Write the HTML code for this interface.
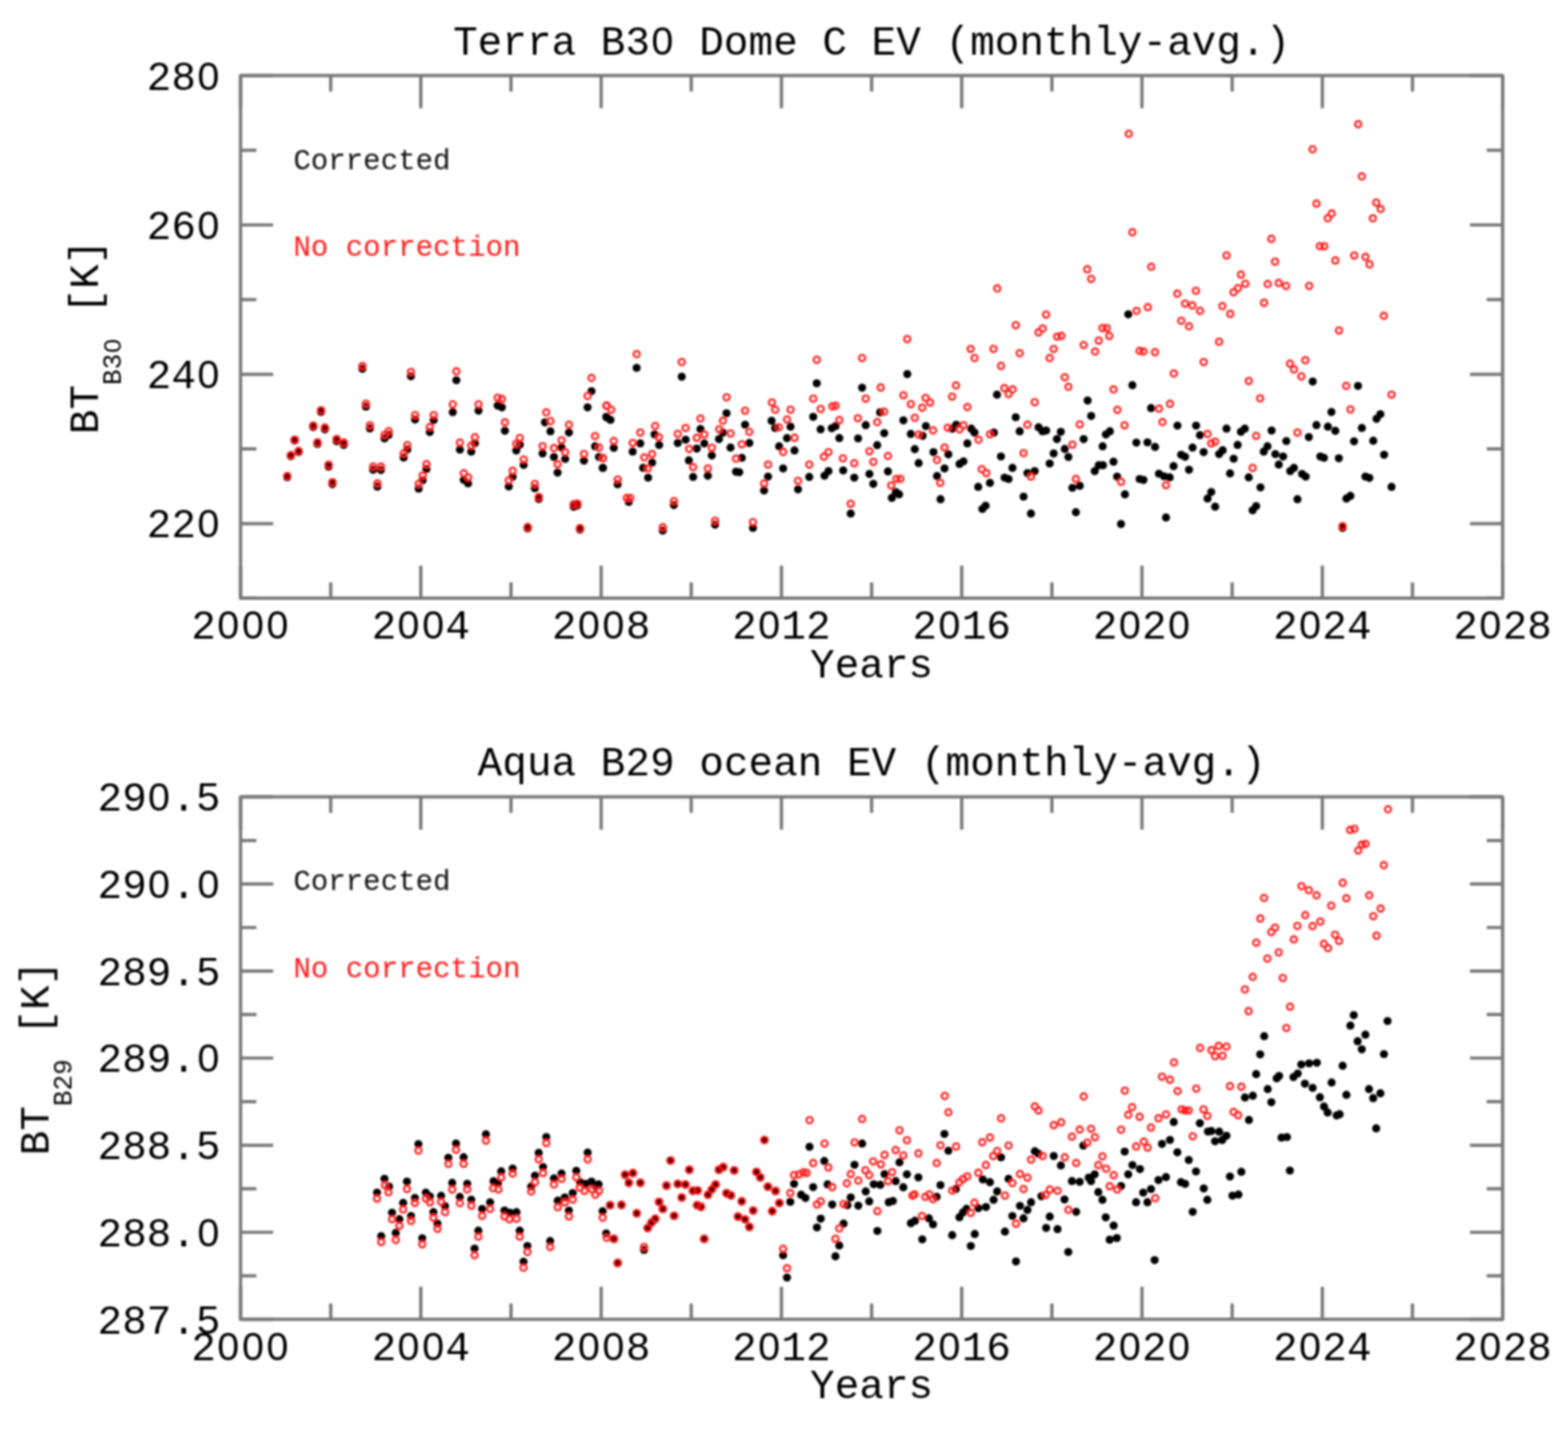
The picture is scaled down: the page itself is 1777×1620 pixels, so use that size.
<!DOCTYPE html><html><head><meta charset="utf-8"><title>Terra B30 / Aqua B29 monthly-avg BT</title><style>html,body{margin:0;padding:0;background:#fff;}svg{display:block}text{font-family:"Liberation Mono",monospace;white-space:pre}</style></head><body>
<svg width="1777" height="1620" viewBox="0 0 1777 1620">
<defs><filter id="bm" x="-50%" y="-50%" width="200%" height="200%"><feGaussianBlur stdDeviation="1"/></filter><filter id="bt" x="-5%" y="-5%" width="110%" height="110%"><feGaussianBlur stdDeviation="1"/></filter><radialGradient id="rg"><stop offset="0.62" stop-color="#900000"/><stop offset="1" stop-color="#ff1414"/></radialGradient></defs>
<rect width="100%" height="100%" fill="#fff"/>
<g filter="url(#bt)">
<path d="M272.6 678.2V641.2M272.6 85.7V122.7M374.8 678.2V660.2M374.8 85.7V103.7M476.9 678.2V641.2M476.9 85.7V122.7M579.1 678.2V660.2M579.1 85.7V103.7M681.3 678.2V641.2M681.3 85.7V122.7M783.4 678.2V660.2M783.4 85.7V103.7M885.6 678.2V641.2M885.6 85.7V122.7M987.8 678.2V660.2M987.8 85.7V103.7M1089.9 678.2V641.2M1089.9 85.7V122.7M1192.1 678.2V660.2M1192.1 85.7V103.7M1294.2 678.2V641.2M1294.2 85.7V122.7M1396.4 678.2V660.2M1396.4 85.7V103.7M1498.6 678.2V641.2M1498.6 85.7V122.7M1600.7 678.2V660.2M1600.7 85.7V103.7M1702.9 678.2V641.2M1702.9 85.7V122.7M272.6 678.2H290.6M1702.9 678.2H1684.9M272.6 593.6H309.6M1702.9 593.6H1665.9M272.6 508.9H290.6M1702.9 508.9H1684.9M272.6 424.3H309.6M1702.9 424.3H1665.9M272.6 339.6H290.6M1702.9 339.6H1684.9M272.6 255.0H309.6M1702.9 255.0H1665.9M272.6 170.3H290.6M1702.9 170.3H1684.9M272.6 85.7H309.6M1702.9 85.7H1665.9" stroke="#787878" stroke-width="3.7" fill="none"/>
<rect x="272.6" y="85.7" width="1430.3" height="592.5" stroke="#787878" stroke-width="3.7" fill="none" stroke-linejoin="round"/>
<text y="609.36" font-size="46.5"><tspan x="166.30">22</tspan><tspan x="223.65" font-family="Liberation Sans" font-size="44.60">0</tspan></text>
<text y="440.07" font-size="46.5"><tspan x="166.30">24</tspan><tspan x="223.65" font-family="Liberation Sans" font-size="44.60">0</tspan></text>
<text y="270.79" font-size="46.5"><tspan x="166.30">26</tspan><tspan x="223.65" font-family="Liberation Sans" font-size="44.60">0</tspan></text>
<text y="101.50" font-size="46.5"><tspan x="166.30">28</tspan><tspan x="223.65" font-family="Liberation Sans" font-size="44.60">0</tspan></text>
<text y="724.20" font-size="46.5"><tspan x="216.80">2</tspan><tspan x="246.25" font-family="Liberation Sans" font-size="44.60">0</tspan><tspan x="274.15" font-family="Liberation Sans" font-size="44.60">0</tspan><tspan x="302.05" font-family="Liberation Sans" font-size="44.60">0</tspan></text>
<text y="724.20" font-size="46.5"><tspan x="421.13">2</tspan><tspan x="450.58" font-family="Liberation Sans" font-size="44.60">0</tspan><tspan x="478.48" font-family="Liberation Sans" font-size="44.60">0</tspan><tspan x="504.83">4</tspan></text>
<text y="724.20" font-size="46.5"><tspan x="625.46">2</tspan><tspan x="654.91" font-family="Liberation Sans" font-size="44.60">0</tspan><tspan x="682.81" font-family="Liberation Sans" font-size="44.60">0</tspan><tspan x="709.16">8</tspan></text>
<text y="724.20" font-size="46.5"><tspan x="829.79">2</tspan><tspan x="859.24" font-family="Liberation Sans" font-size="44.60">0</tspan><tspan x="885.59">12</tspan></text>
<text y="724.20" font-size="46.5"><tspan x="1034.11">2</tspan><tspan x="1063.57" font-family="Liberation Sans" font-size="44.60">0</tspan><tspan x="1089.91">16</tspan></text>
<text y="724.20" font-size="46.5"><tspan x="1238.44">2</tspan><tspan x="1267.89" font-family="Liberation Sans" font-size="44.60">0</tspan><tspan x="1294.24">2</tspan><tspan x="1323.69" font-family="Liberation Sans" font-size="44.60">0</tspan></text>
<text y="724.20" font-size="46.5"><tspan x="1442.77">2</tspan><tspan x="1472.22" font-family="Liberation Sans" font-size="44.60">0</tspan><tspan x="1498.57">24</tspan></text>
<text y="724.20" font-size="46.5"><tspan x="1647.10">2</tspan><tspan x="1676.55" font-family="Liberation Sans" font-size="44.60">0</tspan><tspan x="1702.90">28</tspan></text>
<text y="767.50" font-size="46.5"><tspan x="918.00">Years</tspan></text>
<text y="61.70" font-size="46.5"><tspan x="513.45">Terra B3</tspan><tspan x="738.20" font-family="Liberation Sans" font-size="44.60">0</tspan><tspan x="764.55"> Dome C EV (monthly-avg.)</tspan></text>
<g transform="translate(111,382.0) rotate(-90)"><text y="0.00" font-size="46.5"><tspan x="-110.25">BT</tspan></text><text y="26.00" font-size="29.5"><tspan x="-54.45">B3</tspan><tspan x="-18.07" font-family="Liberation Sans" font-size="28.29">0</tspan></text><text y="0.00" font-size="46.5"><tspan x="-1.35"> [K]</tspan></text></g>
<text y="191.80" font-size="33" fill="#111"><tspan x="332.40">Corrected</tspan></text>
<text y="289.50" font-size="33" fill="#ff1a1a"><tspan x="332.40">No correction</tspan></text>
</g>
<g filter="url(#bm)">
<g fill="#000"><circle cx="325.5" cy="540.9" r="4.6"/><circle cx="329.6" cy="517.1" r="4.6"/><circle cx="338.4" cy="512.4" r="4.6"/><circle cx="333.9" cy="499.5" r="4.6"/><circle cx="355.0" cy="484.1" r="4.6"/><circle cx="363.8" cy="466.9" r="4.6"/><circle cx="368.2" cy="486.8" r="4.6"/><circle cx="359.8" cy="503.2" r="4.6"/><circle cx="372.4" cy="529.0" r="4.6"/><circle cx="376.7" cy="548.8" r="4.6"/><circle cx="381.5" cy="500.1" r="4.6"/><circle cx="389.6" cy="504.3" r="4.6"/><circle cx="410.7" cy="418.1" r="4.6"/><circle cx="414.7" cy="461.0" r="4.6"/><circle cx="419.2" cy="485.7" r="4.6"/><circle cx="435.8" cy="497.0" r="4.6"/><circle cx="440.5" cy="493.0" r="4.6"/><circle cx="422.9" cy="532.6" r="4.6"/><circle cx="431.7" cy="532.8" r="4.6"/><circle cx="427.7" cy="551.7" r="4.6"/><circle cx="461.6" cy="509.4" r="4.6"/><circle cx="457.5" cy="518.7" r="4.6"/><circle cx="465.7" cy="426.6" r="4.6"/><circle cx="470.4" cy="475.6" r="4.6"/><circle cx="491.5" cy="476.3" r="4.6"/><circle cx="487.1" cy="489.8" r="4.6"/><circle cx="483.3" cy="531.7" r="4.6"/><circle cx="479.0" cy="544.5" r="4.6"/><circle cx="474.5" cy="553.9" r="4.6"/><circle cx="517.2" cy="431.0" r="4.6"/><circle cx="513.1" cy="467.2" r="4.6"/><circle cx="542.3" cy="465.6" r="4.6"/><circle cx="564.0" cy="459.8" r="4.6"/><circle cx="568.8" cy="461.8" r="4.6"/><circle cx="572.2" cy="488.3" r="4.6"/><circle cx="521.2" cy="509.7" r="4.6"/><circle cx="538.2" cy="502.5" r="4.6"/><circle cx="534.1" cy="512.0" r="4.6"/><circle cx="525.6" cy="543.9" r="4.6"/><circle cx="530.5" cy="548.0" r="4.6"/><circle cx="581.0" cy="540.6" r="4.6"/><circle cx="576.6" cy="551.4" r="4.6"/><circle cx="589.1" cy="503.9" r="4.6"/><circle cx="585.1" cy="510.7" r="4.6"/><circle cx="593.5" cy="527.0" r="4.6"/><circle cx="606.1" cy="553.5" r="4.6"/><circle cx="610.6" cy="565.7" r="4.6"/><circle cx="598.0" cy="598.9" r="4.6"/><circle cx="623.8" cy="488.9" r="4.6"/><circle cx="644.8" cy="490.3" r="4.6"/><circle cx="614.9" cy="514.1" r="4.6"/><circle cx="627.8" cy="518.1" r="4.6"/><circle cx="636.4" cy="507.3" r="4.6"/><circle cx="640.5" cy="520.2" r="4.6"/><circle cx="631.9" cy="535.8" r="4.6"/><circle cx="650.2" cy="574.5" r="4.6"/><circle cx="654.3" cy="573.0" r="4.6"/><circle cx="657.3" cy="600.3" r="4.6"/><circle cx="670.3" cy="443.5" r="4.6"/><circle cx="665.9" cy="461.8" r="4.6"/><circle cx="661.8" cy="522.2" r="4.6"/><circle cx="674.4" cy="505.9" r="4.6"/><circle cx="678.8" cy="518.1" r="4.6"/><circle cx="683.1" cy="530.4" r="4.6"/><circle cx="687.6" cy="473.3" r="4.6"/><circle cx="617.6" cy="478.8" r="4.6"/><circle cx="721.5" cy="417.0" r="4.6"/><circle cx="772.6" cy="427.1" r="4.6"/><circle cx="687.1" cy="472.6" r="4.6"/><circle cx="691.9" cy="476.0" r="4.6"/><circle cx="683.3" cy="530.4" r="4.6"/><circle cx="695.6" cy="507.7" r="4.6"/><circle cx="700.0" cy="548.9" r="4.6"/><circle cx="712.6" cy="568.9" r="4.6"/><circle cx="717.0" cy="511.9" r="4.6"/><circle cx="725.6" cy="502.7" r="4.6"/><circle cx="741.9" cy="492.6" r="4.6"/><circle cx="747.0" cy="504.4" r="4.6"/><circle cx="739.0" cy="524.4" r="4.6"/><circle cx="728.9" cy="530.4" r="4.6"/><circle cx="734.5" cy="541.5" r="4.6"/><circle cx="751.1" cy="601.5" r="4.6"/><circle cx="763.7" cy="572.6" r="4.6"/><circle cx="768.1" cy="502.2" r="4.6"/><circle cx="777.0" cy="498.5" r="4.6"/><circle cx="780.7" cy="521.9" r="4.6"/><circle cx="789.6" cy="508.6" r="4.6"/><circle cx="793.8" cy="486.4" r="4.6"/><circle cx="798.2" cy="502.7" r="4.6"/><circle cx="785.5" cy="540.7" r="4.6"/><circle cx="802.2" cy="539.3" r="4.6"/><circle cx="806.7" cy="516.3" r="4.6"/><circle cx="819.3" cy="490.4" r="4.6"/><circle cx="814.8" cy="497.8" r="4.6"/><circle cx="823.4" cy="468.6" r="4.6"/><circle cx="827.9" cy="507.4" r="4.6"/><circle cx="840.7" cy="519.0" r="4.6"/><circle cx="834.1" cy="534.8" r="4.6"/><circle cx="837.8" cy="535.3" r="4.6"/><circle cx="844.4" cy="481.5" r="4.6"/><circle cx="849.2" cy="502.2" r="4.6"/><circle cx="870.4" cy="540.3" r="4.6"/><circle cx="865.9" cy="556.0" r="4.6"/><circle cx="810.4" cy="594.8" r="4.6"/><circle cx="853.3" cy="598.5" r="4.6"/><circle cx="874.4" cy="477.0" r="4.6"/><circle cx="878.5" cy="485.2" r="4.6"/><circle cx="895.9" cy="483.7" r="4.6"/><circle cx="891.9" cy="496.7" r="4.6"/><circle cx="883.0" cy="505.9" r="4.6"/><circle cx="900.4" cy="510.7" r="4.6"/><circle cx="887.5" cy="531.1" r="4.6"/><circle cx="904.4" cy="554.8" r="4.6"/><circle cx="917.1" cy="540.7" r="4.6"/><circle cx="921.6" cy="472.6" r="4.6"/><circle cx="925.6" cy="434.5" r="4.6"/><circle cx="930.0" cy="486.7" r="4.6"/><circle cx="942.6" cy="485.5" r="4.6"/><circle cx="947.0" cy="483.0" r="4.6"/><circle cx="951.2" cy="496.7" r="4.6"/><circle cx="934.4" cy="539.3" r="4.6"/><circle cx="938.9" cy="534.1" r="4.6"/><circle cx="955.6" cy="533.3" r="4.6"/><circle cx="964.1" cy="582.2" r="4.6"/><circle cx="968.1" cy="541.5" r="4.6"/><circle cx="972.5" cy="497.0" r="4.6"/><circle cx="977.0" cy="439.6" r="4.6"/><circle cx="981.1" cy="481.9" r="4.6"/><circle cx="985.3" cy="537.3" r="4.6"/><circle cx="989.7" cy="548.6" r="4.6"/><circle cx="994.1" cy="504.7" r="4.6"/><circle cx="997.4" cy="467.4" r="4.6"/><circle cx="1002.1" cy="491.1" r="4.6"/><circle cx="1006.3" cy="534.4" r="4.6"/><circle cx="1010.7" cy="564.4" r="4.6"/><circle cx="1018.9" cy="560.4" r="4.6"/><circle cx="1015.2" cy="557.8" r="4.6"/><circle cx="1023.8" cy="476.6" r="4.6"/><circle cx="1028.2" cy="424.1" r="4.6"/><circle cx="1032.2" cy="491.9" r="4.6"/><circle cx="1036.7" cy="509.2" r="4.6"/><circle cx="1041.1" cy="524.9" r="4.6"/><circle cx="1045.6" cy="494.1" r="4.6"/><circle cx="1049.3" cy="483.0" r="4.6"/><circle cx="1057.9" cy="512.6" r="4.6"/><circle cx="1061.9" cy="539.7" r="4.6"/><circle cx="1065.9" cy="565.9" r="4.6"/><circle cx="1074.8" cy="515.1" r="4.6"/><circle cx="1070.4" cy="531.1" r="4.6"/><circle cx="1079.3" cy="485.9" r="4.6"/><circle cx="1083.7" cy="481.5" r="4.6"/><circle cx="1087.4" cy="525.9" r="4.6"/><circle cx="1091.9" cy="523.0" r="4.6"/><circle cx="1096.3" cy="502.7" r="4.6"/><circle cx="1100.7" cy="485.9" r="4.6"/><circle cx="1104.4" cy="490.4" r="4.6"/><circle cx="1108.6" cy="551.9" r="4.6"/><circle cx="1113.3" cy="577.0" r="4.6"/><circle cx="1117.0" cy="573.3" r="4.6"/><circle cx="1121.9" cy="547.4" r="4.6"/><circle cx="1126.4" cy="490.4" r="4.6"/><circle cx="1129.9" cy="447.4" r="4.6"/><circle cx="1134.4" cy="517.5" r="4.6"/><circle cx="1138.5" cy="541.5" r="4.6"/><circle cx="1143.0" cy="543.0" r="4.6"/><circle cx="1147.4" cy="530.4" r="4.6"/><circle cx="1151.1" cy="473.0" r="4.6"/><circle cx="1155.6" cy="488.9" r="4.6"/><circle cx="1160.0" cy="563.0" r="4.6"/><circle cx="1164.4" cy="536.3" r="4.6"/><circle cx="1172.6" cy="534.1" r="4.6"/><circle cx="1168.4" cy="582.2" r="4.6"/><circle cx="1177.0" cy="484.4" r="4.6"/><circle cx="1181.5" cy="488.9" r="4.6"/><circle cx="1185.6" cy="488.1" r="4.6"/><circle cx="1189.6" cy="525.5" r="4.6"/><circle cx="1194.1" cy="514.1" r="4.6"/><circle cx="1197.8" cy="497.8" r="4.6"/><circle cx="1202.2" cy="489.6" r="4.6"/><circle cx="1206.7" cy="508.9" r="4.6"/><circle cx="1210.8" cy="518.1" r="4.6"/><circle cx="1215.3" cy="553.0" r="4.6"/><circle cx="1223.7" cy="550.7" r="4.6"/><circle cx="1219.3" cy="580.7" r="4.6"/><circle cx="1228.1" cy="497.8" r="4.6"/><circle cx="1232.6" cy="454.1" r="4.6"/><circle cx="1236.6" cy="471.6" r="4.6"/><circle cx="1240.7" cy="534.1" r="4.6"/><circle cx="1245.2" cy="527.4" r="4.6"/><circle cx="1249.6" cy="505.9" r="4.6"/><circle cx="1253.3" cy="492.6" r="4.6"/><circle cx="1257.8" cy="488.9" r="4.6"/><circle cx="1283.3" cy="436.7" r="4.6"/><circle cx="1261.9" cy="523.4" r="4.6"/><circle cx="1266.0" cy="540.3" r="4.6"/><circle cx="1274.9" cy="560.4" r="4.6"/><circle cx="1270.4" cy="594.1" r="4.6"/><circle cx="1287.8" cy="501.8" r="4.6"/><circle cx="1300.4" cy="501.5" r="4.6"/><circle cx="1309.0" cy="506.7" r="4.6"/><circle cx="1291.5" cy="543.0" r="4.6"/><circle cx="1295.9" cy="544.1" r="4.6"/><circle cx="1304.5" cy="462.7" r="4.6"/><circle cx="1313.4" cy="537.0" r="4.6"/><circle cx="1319.3" cy="540.0" r="4.6"/><circle cx="1325.6" cy="541.2" r="4.6"/><circle cx="1321.4" cy="586.7" r="4.6"/><circle cx="1330.0" cy="528.4" r="4.6"/><circle cx="1334.4" cy="482.5" r="4.6"/><circle cx="1338.6" cy="515.6" r="4.6"/><circle cx="1343.0" cy="517.8" r="4.6"/><circle cx="1347.5" cy="532.6" r="4.6"/><circle cx="1351.5" cy="507.4" r="4.6"/><circle cx="1355.5" cy="482.5" r="4.6"/><circle cx="1359.9" cy="493.3" r="4.6"/><circle cx="1364.1" cy="512.6" r="4.6"/><circle cx="1368.5" cy="565.2" r="4.6"/><circle cx="1372.7" cy="557.8" r="4.6"/><circle cx="1377.1" cy="574.4" r="4.6"/><circle cx="1381.6" cy="514.8" r="4.6"/><circle cx="1385.6" cy="510.4" r="4.6"/><circle cx="1390.0" cy="485.9" r="4.6"/><circle cx="1394.0" cy="536.7" r="4.6"/><circle cx="1398.1" cy="520.0" r="4.6"/><circle cx="1402.6" cy="504.4" r="4.6"/><circle cx="1406.3" cy="489.6" r="4.6"/><circle cx="1410.7" cy="485.9" r="4.6"/><circle cx="1415.2" cy="541.2" r="4.6"/><circle cx="1419.6" cy="578.5" r="4.6"/><circle cx="1423.6" cy="573.8" r="4.6"/><circle cx="1428.5" cy="552.6" r="4.6"/><circle cx="1432.2" cy="511.9" r="4.6"/><circle cx="1436.4" cy="505.9" r="4.6"/><circle cx="1441.1" cy="488.1" r="4.6"/><circle cx="1445.3" cy="514.8" r="4.6"/><circle cx="1250.0" cy="527.4" r="4.6"/><circle cx="1449.2" cy="526.7" r="4.6"/><circle cx="1454.1" cy="517.5" r="4.6"/><circle cx="1457.8" cy="500.0" r="4.6"/><circle cx="1462.2" cy="534.1" r="4.6"/><circle cx="1466.4" cy="530.4" r="4.6"/><circle cx="1470.4" cy="565.9" r="4.6"/><circle cx="1475.6" cy="537.3" r="4.6"/><circle cx="1479.7" cy="540.3" r="4.6"/><circle cx="1483.3" cy="495.6" r="4.6"/><circle cx="1487.7" cy="432.6" r="4.6"/><circle cx="1491.9" cy="481.9" r="4.6"/><circle cx="1496.3" cy="517.5" r="4.6"/><circle cx="1500.4" cy="519.0" r="4.6"/><circle cx="1504.9" cy="483.7" r="4.6"/><circle cx="1513.3" cy="488.4" r="4.6"/><circle cx="1508.9" cy="467.1" r="4.6"/><circle cx="1517.3" cy="519.6" r="4.6"/><circle cx="1521.5" cy="598.5" r="4.6"/><circle cx="1525.9" cy="565.2" r="4.6"/><circle cx="1530.4" cy="562.2" r="4.6"/><circle cx="1534.5" cy="500.3" r="4.6"/><circle cx="1539.0" cy="437.5" r="4.6"/><circle cx="1543.4" cy="485.2" r="4.6"/><circle cx="1547.4" cy="540.3" r="4.6"/><circle cx="1551.9" cy="541.8" r="4.6"/><circle cx="1556.3" cy="499.7" r="4.6"/><circle cx="1560.0" cy="474.8" r="4.6"/><circle cx="1564.4" cy="469.6" r="4.6"/><circle cx="1568.6" cy="515.6" r="4.6"/><circle cx="1577.0" cy="551.9" r="4.6"/><circle cx="1278.7" cy="356.3" r="4.6"/></g>
<g fill="none" stroke="#ff2020" stroke-width="2.35"><circle cx="410.7" cy="414.9" r="3.55"/><circle cx="414.7" cy="457.7" r="3.55"/><circle cx="419.2" cy="482.2" r="3.55"/><circle cx="435.8" cy="493.0" r="3.55"/><circle cx="440.5" cy="488.9" r="3.55"/><circle cx="422.9" cy="529.0" r="3.55"/><circle cx="431.7" cy="529.0" r="3.55"/><circle cx="427.7" cy="548.0" r="3.55"/><circle cx="461.6" cy="504.6" r="3.55"/><circle cx="457.5" cy="514.1" r="3.55"/><circle cx="465.7" cy="421.7" r="3.55"/><circle cx="470.4" cy="470.6" r="3.55"/><circle cx="491.5" cy="470.6" r="3.55"/><circle cx="487.1" cy="484.2" r="3.55"/><circle cx="483.3" cy="526.3" r="3.55"/><circle cx="479.0" cy="539.2" r="3.55"/><circle cx="474.5" cy="548.7" r="3.55"/><circle cx="517.2" cy="421.0" r="3.55"/><circle cx="513.1" cy="458.4" r="3.55"/><circle cx="542.3" cy="458.4" r="3.55"/><circle cx="564.0" cy="450.9" r="3.55"/><circle cx="568.8" cy="452.3" r="3.55"/><circle cx="572.2" cy="478.8" r="3.55"/><circle cx="521.2" cy="501.8" r="3.55"/><circle cx="538.2" cy="495.7" r="3.55"/><circle cx="534.1" cy="505.2" r="3.55"/><circle cx="525.6" cy="536.5" r="3.55"/><circle cx="530.5" cy="541.2" r="3.55"/><circle cx="581.0" cy="533.8" r="3.55"/><circle cx="576.6" cy="544.6" r="3.55"/><circle cx="589.1" cy="496.4" r="3.55"/><circle cx="585.1" cy="503.2" r="3.55"/><circle cx="593.5" cy="520.9" r="3.55"/><circle cx="606.1" cy="548.7" r="3.55"/><circle cx="623.8" cy="477.4" r="3.55"/><circle cx="644.8" cy="481.5" r="3.55"/><circle cx="614.9" cy="505.9" r="3.55"/><circle cx="627.8" cy="508.0" r="3.55"/><circle cx="636.4" cy="499.1" r="3.55"/><circle cx="640.5" cy="512.7" r="3.55"/><circle cx="631.9" cy="526.3" r="3.55"/><circle cx="670.3" cy="428.5" r="3.55"/><circle cx="665.9" cy="448.9" r="3.55"/><circle cx="661.8" cy="514.7" r="3.55"/><circle cx="674.4" cy="494.4" r="3.55"/><circle cx="678.8" cy="507.3" r="3.55"/><circle cx="683.1" cy="519.5" r="3.55"/><circle cx="687.6" cy="459.8" r="3.55"/><circle cx="619.0" cy="467.5" r="3.55"/><circle cx="721.5" cy="401.5" r="3.55"/><circle cx="772.6" cy="410.4" r="3.55"/><circle cx="687.1" cy="460.0" r="3.55"/><circle cx="692.6" cy="464.4" r="3.55"/><circle cx="683.3" cy="519.3" r="3.55"/><circle cx="695.6" cy="500.0" r="3.55"/><circle cx="700.0" cy="543.7" r="3.55"/><circle cx="710.4" cy="564.4" r="3.55"/><circle cx="714.1" cy="564.4" r="3.55"/><circle cx="717.0" cy="502.2" r="3.55"/><circle cx="725.6" cy="490.4" r="3.55"/><circle cx="742.5" cy="483.0" r="3.55"/><circle cx="746.7" cy="495.6" r="3.55"/><circle cx="730.1" cy="518.5" r="3.55"/><circle cx="739.0" cy="514.8" r="3.55"/><circle cx="734.1" cy="531.1" r="3.55"/><circle cx="751.1" cy="597.8" r="3.55"/><circle cx="763.7" cy="568.1" r="3.55"/><circle cx="768.1" cy="491.9" r="3.55"/><circle cx="777.0" cy="485.2" r="3.55"/><circle cx="781.0" cy="508.9" r="3.55"/><circle cx="789.6" cy="496.3" r="3.55"/><circle cx="793.8" cy="474.5" r="3.55"/><circle cx="798.2" cy="492.6" r="3.55"/><circle cx="785.5" cy="529.6" r="3.55"/><circle cx="802.2" cy="531.1" r="3.55"/><circle cx="806.7" cy="507.7" r="3.55"/><circle cx="819.3" cy="477.0" r="3.55"/><circle cx="815.1" cy="486.7" r="3.55"/><circle cx="823.4" cy="450.4" r="3.55"/><circle cx="827.9" cy="491.4" r="3.55"/><circle cx="834.1" cy="520.0" r="3.55"/><circle cx="840.7" cy="503.7" r="3.55"/><circle cx="844.4" cy="465.6" r="3.55"/><circle cx="849.2" cy="489.6" r="3.55"/><circle cx="870.4" cy="526.7" r="3.55"/><circle cx="865.9" cy="548.1" r="3.55"/><circle cx="810.4" cy="590.4" r="3.55"/><circle cx="853.3" cy="591.9" r="3.55"/><circle cx="874.8" cy="456.3" r="3.55"/><circle cx="878.5" cy="464.4" r="3.55"/><circle cx="882.6" cy="484.4" r="3.55"/><circle cx="895.9" cy="464.4" r="3.55"/><circle cx="891.9" cy="475.6" r="3.55"/><circle cx="900.4" cy="496.3" r="3.55"/><circle cx="887.5" cy="512.3" r="3.55"/><circle cx="904.4" cy="545.2" r="3.55"/><circle cx="917.1" cy="526.7" r="3.55"/><circle cx="921.6" cy="451.9" r="3.55"/><circle cx="925.6" cy="407.9" r="3.55"/><circle cx="930.0" cy="463.7" r="3.55"/><circle cx="943.3" cy="460.7" r="3.55"/><circle cx="947.0" cy="460.0" r="3.55"/><circle cx="951.2" cy="476.3" r="3.55"/><circle cx="933.7" cy="517.8" r="3.55"/><circle cx="938.9" cy="512.6" r="3.55"/><circle cx="955.2" cy="519.6" r="3.55"/><circle cx="964.1" cy="571.1" r="3.55"/><circle cx="968.1" cy="525.2" r="3.55"/><circle cx="972.2" cy="474.1" r="3.55"/><circle cx="977.0" cy="405.9" r="3.55"/><circle cx="981.1" cy="451.9" r="3.55"/><circle cx="985.3" cy="511.6" r="3.55"/><circle cx="989.7" cy="523.7" r="3.55"/><circle cx="994.1" cy="478.5" r="3.55"/><circle cx="998.1" cy="439.3" r="3.55"/><circle cx="1001.9" cy="466.7" r="3.55"/><circle cx="1006.3" cy="517.0" r="3.55"/><circle cx="1010.0" cy="550.4" r="3.55"/><circle cx="1015.9" cy="543.0" r="3.55"/><circle cx="1020.4" cy="543.0" r="3.55"/><circle cx="1023.8" cy="448.1" r="3.55"/><circle cx="1028.2" cy="384.4" r="3.55"/><circle cx="1032.2" cy="458.2" r="3.55"/><circle cx="1036.7" cy="473.6" r="3.55"/><circle cx="1041.1" cy="492.6" r="3.55"/><circle cx="1045.1" cy="462.2" r="3.55"/><circle cx="1049.0" cy="451.1" r="3.55"/><circle cx="1054.0" cy="456.3" r="3.55"/><circle cx="1057.4" cy="487.9" r="3.55"/><circle cx="1061.9" cy="521.5" r="3.55"/><circle cx="1065.6" cy="547.4" r="3.55"/><circle cx="1070.4" cy="507.4" r="3.55"/><circle cx="1074.1" cy="484.9" r="3.55"/><circle cx="1079.0" cy="449.6" r="3.55"/><circle cx="1083.4" cy="437.0" r="3.55"/><circle cx="1087.4" cy="486.7" r="3.55"/><circle cx="1091.9" cy="482.2" r="3.55"/><circle cx="1096.3" cy="461.5" r="3.55"/><circle cx="1100.0" cy="395.6" r="3.55"/><circle cx="1104.4" cy="405.9" r="3.55"/><circle cx="1108.9" cy="498.5" r="3.55"/><circle cx="1112.6" cy="531.9" r="3.55"/><circle cx="1117.8" cy="536.3" r="3.55"/><circle cx="1121.9" cy="492.3" r="3.55"/><circle cx="1125.9" cy="395.6" r="3.55"/><circle cx="1134.4" cy="414.8" r="3.55"/><circle cx="1138.2" cy="440.0" r="3.55"/><circle cx="1143.0" cy="446.7" r="3.55"/><circle cx="1147.7" cy="441.5" r="3.55"/><circle cx="1155.6" cy="400.4" r="3.55"/><circle cx="1160.0" cy="513.6" r="3.55"/><circle cx="1164.4" cy="481.5" r="3.55"/><circle cx="1168.4" cy="540.3" r="3.55"/><circle cx="1172.6" cy="455.9" r="3.55"/><circle cx="1189.6" cy="405.9" r="3.55"/><circle cx="1194.1" cy="395.6" r="3.55"/><circle cx="1206.7" cy="427.7" r="3.55"/><circle cx="1210.8" cy="438.5" r="3.55"/><circle cx="1215.3" cy="504.1" r="3.55"/><circle cx="1219.3" cy="543.0" r="3.55"/><circle cx="1223.7" cy="481.2" r="3.55"/><circle cx="1228.1" cy="391.1" r="3.55"/><circle cx="1241.0" cy="398.5" r="3.55"/><circle cx="1245.2" cy="386.2" r="3.55"/><circle cx="1232.1" cy="305.3" r="3.55"/><circle cx="1236.6" cy="316.2" r="3.55"/><circle cx="1130.1" cy="327.0" r="3.55"/><circle cx="1185.5" cy="356.7" r="3.55"/><circle cx="1151.2" cy="368.7" r="3.55"/><circle cx="1176.9" cy="376.8" r="3.55"/><circle cx="1181.7" cy="372.4" r="3.55"/><circle cx="1198.0" cy="381.6" r="3.55"/><circle cx="1202.9" cy="380.8" r="3.55"/><circle cx="1249.4" cy="371.9" r="3.55"/><circle cx="1254.2" cy="371.9" r="3.55"/><circle cx="1257.1" cy="380.8" r="3.55"/><circle cx="1261.9" cy="441.5" r="3.55"/><circle cx="1266.3" cy="464.7" r="3.55"/><circle cx="1274.4" cy="482.2" r="3.55"/><circle cx="1270.4" cy="546.2" r="3.55"/><circle cx="1291.5" cy="397.8" r="3.55"/><circle cx="1295.9" cy="398.5" r="3.55"/><circle cx="1309.0" cy="399.3" r="3.55"/><circle cx="1313.4" cy="463.3" r="3.55"/><circle cx="1317.4" cy="478.5" r="3.55"/><circle cx="1325.9" cy="457.8" r="3.55"/><circle cx="1330.3" cy="423.4" r="3.55"/><circle cx="1321.4" cy="550.1" r="3.55"/><circle cx="1364.1" cy="410.4" r="3.55"/><circle cx="1368.5" cy="491.9" r="3.55"/><circle cx="1372.7" cy="502.7" r="3.55"/><circle cx="1377.1" cy="500.7" r="3.55"/><circle cx="1381.6" cy="387.4" r="3.55"/><circle cx="1415.2" cy="431.9" r="3.55"/><circle cx="1428.1" cy="451.6" r="3.55"/><circle cx="1423.6" cy="494.1" r="3.55"/><circle cx="1419.6" cy="530.4" r="3.55"/><circle cx="1461.9" cy="412.3" r="3.55"/><circle cx="1466.4" cy="418.8" r="3.55"/><circle cx="1479.3" cy="408.4" r="3.55"/><circle cx="1474.8" cy="426.7" r="3.55"/><circle cx="1525.6" cy="437.5" r="3.55"/><circle cx="1530.4" cy="464.1" r="3.55"/><circle cx="1577.0" cy="447.4" r="3.55"/><circle cx="1470.4" cy="490.4" r="3.55"/><circle cx="1279.2" cy="151.7" r="3.55"/><circle cx="1283.3" cy="263.3" r="3.55"/><circle cx="1304.7" cy="302.5" r="3.55"/><circle cx="1288.0" cy="352.5" r="3.55"/><circle cx="1300.8" cy="348.3" r="3.55"/><circle cx="1334.2" cy="333.0" r="3.55"/><circle cx="1355.3" cy="329.7" r="3.55"/><circle cx="1343.0" cy="344.2" r="3.55"/><circle cx="1351.3" cy="346.3" r="3.55"/><circle cx="1360.0" cy="352.5" r="3.55"/><circle cx="1338.7" cy="363.7" r="3.55"/><circle cx="1347.5" cy="370.0" r="3.55"/><circle cx="1385.3" cy="347.0" r="3.55"/><circle cx="1394.2" cy="355.8" r="3.55"/><circle cx="1390.0" cy="289.7" r="3.55"/><circle cx="1406.3" cy="311.3" r="3.55"/><circle cx="1411.3" cy="321.7" r="3.55"/><circle cx="1403.0" cy="326.7" r="3.55"/><circle cx="1398.0" cy="331.3" r="3.55"/><circle cx="1432.5" cy="343.3" r="3.55"/><circle cx="1436.7" cy="322.0" r="3.55"/><circle cx="1440.8" cy="270.8" r="3.55"/><circle cx="1445.0" cy="296.7" r="3.55"/><circle cx="1449.2" cy="320.8" r="3.55"/><circle cx="1539.2" cy="140.8" r="3.55"/><circle cx="1487.5" cy="169.2" r="3.55"/><circle cx="1543.3" cy="200.0" r="3.55"/><circle cx="1492.0" cy="230.8" r="3.55"/><circle cx="1504.7" cy="247.5" r="3.55"/><circle cx="1509.2" cy="242.0" r="3.55"/><circle cx="1559.7" cy="229.7" r="3.55"/><circle cx="1564.7" cy="237.0" r="3.55"/><circle cx="1555.8" cy="247.5" r="3.55"/><circle cx="1495.8" cy="279.2" r="3.55"/><circle cx="1500.8" cy="279.2" r="3.55"/><circle cx="1513.3" cy="295.3" r="3.55"/><circle cx="1534.7" cy="289.7" r="3.55"/><circle cx="1547.5" cy="291.3" r="3.55"/><circle cx="1552.0" cy="299.7" r="3.55"/><circle cx="1457.5" cy="324.2" r="3.55"/><circle cx="1483.7" cy="324.2" r="3.55"/><circle cx="1568.3" cy="358.0" r="3.55"/><circle cx="1517.5" cy="374.7" r="3.55"/></g>
<g fill="none" stroke="url(#rg)" stroke-width="2.5"><circle cx="325.5" cy="539.9" r="3.55"/><circle cx="329.6" cy="516.1" r="3.55"/><circle cx="338.4" cy="511.4" r="3.55"/><circle cx="333.9" cy="498.5" r="3.55"/><circle cx="355.0" cy="482.6" r="3.55"/><circle cx="363.8" cy="465.2" r="3.55"/><circle cx="368.2" cy="484.9" r="3.55"/><circle cx="359.8" cy="501.6" r="3.55"/><circle cx="372.4" cy="527.0" r="3.55"/><circle cx="376.7" cy="546.7" r="3.55"/><circle cx="381.5" cy="497.8" r="3.55"/><circle cx="389.6" cy="501.8" r="3.55"/><circle cx="610.6" cy="563.6" r="3.55"/><circle cx="598.0" cy="597.6" r="3.55"/><circle cx="650.2" cy="571.8" r="3.55"/><circle cx="654.3" cy="571.1" r="3.55"/><circle cx="657.3" cy="598.9" r="3.55"/><circle cx="1521.5" cy="596.6" r="3.55"/></g>
</g>
<g filter="url(#bt)">
<path d="M272.6 1495.7V1458.7M272.6 903.4V940.4M374.8 1495.7V1477.7M374.8 903.4V921.4M476.9 1495.7V1458.7M476.9 903.4V940.4M579.1 1495.7V1477.7M579.1 903.4V921.4M681.3 1495.7V1458.7M681.3 903.4V940.4M783.4 1495.7V1477.7M783.4 903.4V921.4M885.6 1495.7V1458.7M885.6 903.4V940.4M987.8 1495.7V1477.7M987.8 903.4V921.4M1089.9 1495.7V1458.7M1089.9 903.4V940.4M1192.1 1495.7V1477.7M1192.1 903.4V921.4M1294.2 1495.7V1458.7M1294.2 903.4V940.4M1396.4 1495.7V1477.7M1396.4 903.4V921.4M1498.6 1495.7V1458.7M1498.6 903.4V940.4M1600.7 1495.7V1477.7M1600.7 903.4V921.4M1702.9 1495.7V1458.7M1702.9 903.4V940.4M272.6 1495.7H309.6M1702.9 1495.7H1665.9M272.6 1446.3H290.6M1702.9 1446.3H1684.9M272.6 1397.0H309.6M1702.9 1397.0H1665.9M272.6 1347.6H290.6M1702.9 1347.6H1684.9M272.6 1298.3H309.6M1702.9 1298.3H1665.9M272.6 1248.9H290.6M1702.9 1248.9H1684.9M272.6 1199.5H309.6M1702.9 1199.5H1665.9M272.6 1150.2H290.6M1702.9 1150.2H1684.9M272.6 1100.8H309.6M1702.9 1100.8H1665.9M272.6 1051.5H290.6M1702.9 1051.5H1684.9M272.6 1002.1H309.6M1702.9 1002.1H1665.9M272.6 952.8H290.6M1702.9 952.8H1684.9M272.6 903.4H309.6M1702.9 903.4H1665.9" stroke="#787878" stroke-width="3.7" fill="none"/>
<rect x="272.6" y="903.4" width="1430.3" height="592.3" stroke="#787878" stroke-width="3.7" fill="none" stroke-linejoin="round"/>
<text y="1511.50" font-size="46.5"><tspan x="110.50">287.5</tspan></text>
<text y="1412.78" font-size="46.5"><tspan x="110.50">288.</tspan><tspan x="223.65" font-family="Liberation Sans" font-size="44.60">0</tspan></text>
<text y="1314.07" font-size="46.5"><tspan x="110.50">288.5</tspan></text>
<text y="1215.35" font-size="46.5"><tspan x="110.50">289.</tspan><tspan x="223.65" font-family="Liberation Sans" font-size="44.60">0</tspan></text>
<text y="1116.63" font-size="46.5"><tspan x="110.50">289.5</tspan></text>
<text y="1017.92" font-size="46.5"><tspan x="110.50">29</tspan><tspan x="167.85" font-family="Liberation Sans" font-size="44.60">0</tspan><tspan x="194.20">.</tspan><tspan x="223.65" font-family="Liberation Sans" font-size="44.60">0</tspan></text>
<text y="919.20" font-size="46.5"><tspan x="110.50">29</tspan><tspan x="167.85" font-family="Liberation Sans" font-size="44.60">0</tspan><tspan x="194.20">.5</tspan></text>
<text y="1541.70" font-size="46.5"><tspan x="216.80">2</tspan><tspan x="246.25" font-family="Liberation Sans" font-size="44.60">0</tspan><tspan x="274.15" font-family="Liberation Sans" font-size="44.60">0</tspan><tspan x="302.05" font-family="Liberation Sans" font-size="44.60">0</tspan></text>
<text y="1541.70" font-size="46.5"><tspan x="421.13">2</tspan><tspan x="450.58" font-family="Liberation Sans" font-size="44.60">0</tspan><tspan x="478.48" font-family="Liberation Sans" font-size="44.60">0</tspan><tspan x="504.83">4</tspan></text>
<text y="1541.70" font-size="46.5"><tspan x="625.46">2</tspan><tspan x="654.91" font-family="Liberation Sans" font-size="44.60">0</tspan><tspan x="682.81" font-family="Liberation Sans" font-size="44.60">0</tspan><tspan x="709.16">8</tspan></text>
<text y="1541.70" font-size="46.5"><tspan x="829.79">2</tspan><tspan x="859.24" font-family="Liberation Sans" font-size="44.60">0</tspan><tspan x="885.59">12</tspan></text>
<text y="1541.70" font-size="46.5"><tspan x="1034.11">2</tspan><tspan x="1063.57" font-family="Liberation Sans" font-size="44.60">0</tspan><tspan x="1089.91">16</tspan></text>
<text y="1541.70" font-size="46.5"><tspan x="1238.44">2</tspan><tspan x="1267.89" font-family="Liberation Sans" font-size="44.60">0</tspan><tspan x="1294.24">2</tspan><tspan x="1323.69" font-family="Liberation Sans" font-size="44.60">0</tspan></text>
<text y="1541.70" font-size="46.5"><tspan x="1442.77">2</tspan><tspan x="1472.22" font-family="Liberation Sans" font-size="44.60">0</tspan><tspan x="1498.57">24</tspan></text>
<text y="1541.70" font-size="46.5"><tspan x="1647.10">2</tspan><tspan x="1676.55" font-family="Liberation Sans" font-size="44.60">0</tspan><tspan x="1702.90">28</tspan></text>
<text y="1585.00" font-size="46.5"><tspan x="918.00">Years</tspan></text>
<text y="879.40" font-size="46.5"><tspan x="541.35">Aqua B29 ocean EV (monthly-avg.)</tspan></text>
<g transform="translate(55,1199.5) rotate(-90)"><text y="0.00" font-size="46.5"><tspan x="-110.25">BT</tspan></text><text y="26.00" font-size="29.5"><tspan x="-54.45">B29</tspan></text><text y="0.00" font-size="46.5"><tspan x="-1.35"> [K]</tspan></text></g>
<text y="1009.10" font-size="33" fill="#111"><tspan x="332.40">Corrected</tspan></text>
<text y="1107.60" font-size="33" fill="#ff1a1a"><tspan x="332.40">No correction</tspan></text>
</g>
<g filter="url(#bm)">
<g fill="#000"><circle cx="474.2" cy="1297.0" r="4.6"/><circle cx="516.8" cy="1296.4" r="4.6"/><circle cx="550.7" cy="1285.9" r="4.6"/><circle cx="508.1" cy="1312.5" r="4.6"/><circle cx="525.4" cy="1311.9" r="4.6"/><circle cx="435.7" cy="1336.3" r="4.6"/><circle cx="440.9" cy="1345.2" r="4.6"/><circle cx="427.3" cy="1352.0" r="4.6"/><circle cx="461.2" cy="1339.6" r="4.6"/><circle cx="470.2" cy="1358.1" r="4.6"/><circle cx="456.9" cy="1363.7" r="4.6"/><circle cx="482.6" cy="1352.0" r="4.6"/><circle cx="487.2" cy="1356.3" r="4.6"/><circle cx="499.9" cy="1355.7" r="4.6"/><circle cx="504.4" cy="1367.4" r="4.6"/><circle cx="512.5" cy="1340.9" r="4.6"/><circle cx="529.5" cy="1342.1" r="4.6"/><circle cx="521.1" cy="1356.9" r="4.6"/><circle cx="534.1" cy="1360.0" r="4.6"/><circle cx="546.4" cy="1370.5" r="4.6"/><circle cx="555.4" cy="1363.1" r="4.6"/><circle cx="568.0" cy="1327.9" r="4.6"/><circle cx="581.0" cy="1324.8" r="4.6"/><circle cx="559.4" cy="1339.0" r="4.6"/><circle cx="564.3" cy="1341.5" r="4.6"/><circle cx="571.7" cy="1372.3" r="4.6"/><circle cx="577.9" cy="1374.8" r="4.6"/><circle cx="585.3" cy="1374.2" r="4.6"/><circle cx="444.3" cy="1374.8" r="4.6"/><circle cx="452.6" cy="1382.2" r="4.6"/><circle cx="465.8" cy="1378.5" r="4.6"/><circle cx="491.2" cy="1374.2" r="4.6"/><circle cx="495.8" cy="1387.2" r="4.6"/><circle cx="432.0" cy="1401.4" r="4.6"/><circle cx="448.5" cy="1397.7" r="4.6"/><circle cx="478.5" cy="1403.8" r="4.6"/><circle cx="542.1" cy="1395.2" r="4.6"/><circle cx="537.8" cy="1415.6" r="4.6"/><circle cx="589.0" cy="1395.2" r="4.6"/><circle cx="597.7" cy="1412.5" r="4.6"/><circle cx="593.3" cy="1430.4" r="4.6"/><circle cx="606.3" cy="1332.8" r="4.6"/><circle cx="602.0" cy="1345.2" r="4.6"/><circle cx="619.1" cy="1289.0" r="4.6"/><circle cx="610.5" cy="1306.9" r="4.6"/><circle cx="615.4" cy="1323.0" r="4.6"/><circle cx="666.0" cy="1306.7" r="4.6"/><circle cx="627.8" cy="1335.9" r="4.6"/><circle cx="636.4" cy="1330.4" r="4.6"/><circle cx="653.1" cy="1327.3" r="4.6"/><circle cx="657.4" cy="1340.2" r="4.6"/><circle cx="663.6" cy="1342.1" r="4.6"/><circle cx="670.4" cy="1339.6" r="4.6"/><circle cx="675.3" cy="1345.2" r="4.6"/><circle cx="678.4" cy="1342.7" r="4.6"/><circle cx="632.1" cy="1361.2" r="4.6"/><circle cx="640.1" cy="1357.5" r="4.6"/><circle cx="649.1" cy="1352.6" r="4.6"/><circle cx="644.7" cy="1372.3" r="4.6"/><circle cx="683.0" cy="1373.0" r="4.6"/><circle cx="623.5" cy="1406.9" r="4.6"/><circle cx="687.0" cy="1398.3" r="4.6"/><circle cx="729.9" cy="1417.0" r="4.6"/><circle cx="695.7" cy="1404.7" r="4.6"/><circle cx="691.4" cy="1366.4" r="4.6"/><circle cx="704.3" cy="1366.2" r="4.6"/><circle cx="708.4" cy="1331.9" r="4.6"/><circle cx="717.3" cy="1330.0" r="4.6"/><circle cx="712.6" cy="1341.1" r="4.6"/><circle cx="725.7" cy="1341.1" r="4.6"/><circle cx="721.6" cy="1375.7" r="4.6"/><circle cx="734.0" cy="1392.3" r="4.6"/><circle cx="738.3" cy="1386.2" r="4.6"/><circle cx="742.6" cy="1381.9" r="4.6"/><circle cx="746.9" cy="1362.7" r="4.6"/><circle cx="751.2" cy="1370.7" r="4.6"/><circle cx="700.0" cy="1431.9" r="4.6"/><circle cx="759.9" cy="1315.8" r="4.6"/><circle cx="781.2" cy="1326.3" r="4.6"/><circle cx="755.3" cy="1344.2" r="4.6"/><circle cx="768.1" cy="1342.3" r="4.6"/><circle cx="776.8" cy="1343.0" r="4.6"/><circle cx="785.2" cy="1350.1" r="4.6"/><circle cx="772.6" cy="1357.8" r="4.6"/><circle cx="764.0" cy="1378.5" r="4.6"/><circle cx="790.1" cy="1366.4" r="4.6"/><circle cx="794.4" cy="1368.3" r="4.6"/><circle cx="798.0" cy="1404.7" r="4.6"/><circle cx="790.6" cy="1349.8" r="4.6"/><circle cx="814.7" cy="1326.3" r="4.6"/><circle cx="819.6" cy="1323.2" r="4.6"/><circle cx="832.0" cy="1326.9" r="4.6"/><circle cx="802.3" cy="1354.7" r="4.6"/><circle cx="806.7" cy="1348.5" r="4.6"/><circle cx="811.0" cy="1343.0" r="4.6"/><circle cx="823.3" cy="1352.8" r="4.6"/><circle cx="828.3" cy="1355.3" r="4.6"/><circle cx="840.6" cy="1362.1" r="4.6"/><circle cx="853.6" cy="1372.6" r="4.6"/><circle cx="836.3" cy="1379.4" r="4.6"/><circle cx="844.3" cy="1382.5" r="4.6"/><circle cx="849.3" cy="1391.1" r="4.6"/><circle cx="857.3" cy="1328.8" r="4.6"/><circle cx="861.6" cy="1334.9" r="4.6"/><circle cx="866.3" cy="1292.6" r="4.6"/><circle cx="870.2" cy="1345.4" r="4.6"/><circle cx="878.9" cy="1350.4" r="4.6"/><circle cx="883.2" cy="1364.0" r="4.6"/><circle cx="875.2" cy="1373.2" r="4.6"/><circle cx="887.5" cy="1423.0" r="4.6"/><circle cx="891.9" cy="1448.3" r="4.6"/><circle cx="895.6" cy="1362.5" r="4.6"/><circle cx="899.9" cy="1342.1" r="4.6"/><circle cx="907.9" cy="1354.4" r="4.6"/><circle cx="912.8" cy="1358.1" r="4.6"/><circle cx="917.4" cy="1300.1" r="4.6"/><circle cx="921.5" cy="1345.8" r="4.6"/><circle cx="934.2" cy="1316.2" r="4.6"/><circle cx="937.9" cy="1342.7" r="4.6"/><circle cx="930.1" cy="1381.6" r="4.6"/><circle cx="925.8" cy="1391.5" r="4.6"/><circle cx="943.1" cy="1365.6" r="4.6"/><circle cx="956.0" cy="1387.2" r="4.6"/><circle cx="951.1" cy="1411.9" r="4.6"/><circle cx="946.8" cy="1424.2" r="4.6"/><circle cx="960.4" cy="1366.2" r="4.6"/><circle cx="964.1" cy="1357.5" r="4.6"/><circle cx="968.4" cy="1320.5" r="4.6"/><circle cx="972.7" cy="1366.8" r="4.6"/><circle cx="977.0" cy="1296.4" r="4.6"/><circle cx="981.1" cy="1350.7" r="4.6"/><circle cx="985.1" cy="1361.9" r="4.6"/><circle cx="990.2" cy="1342.5" r="4.6"/><circle cx="997.7" cy="1343.2" r="4.6"/><circle cx="1002.4" cy="1331.0" r="4.6"/><circle cx="994.3" cy="1395.5" r="4.6"/><circle cx="1007.2" cy="1362.9" r="4.6"/><circle cx="1011.9" cy="1361.5" r="4.6"/><circle cx="1015.0" cy="1338.9" r="4.6"/><circle cx="1019.4" cy="1317.7" r="4.6"/><circle cx="1023.7" cy="1345.9" r="4.6"/><circle cx="1027.8" cy="1331.3" r="4.6"/><circle cx="1040.8" cy="1334.8" r="4.6"/><circle cx="1032.3" cy="1386.7" r="4.6"/><circle cx="1037.0" cy="1383.9" r="4.6"/><circle cx="1045.2" cy="1405.0" r="4.6"/><circle cx="1052.7" cy="1381.2" r="4.6"/><circle cx="1057.4" cy="1388.0" r="4.6"/><circle cx="1061.5" cy="1356.8" r="4.6"/><circle cx="1065.8" cy="1343.5" r="4.6"/><circle cx="1070.3" cy="1285.5" r="4.6"/><circle cx="1074.8" cy="1304.5" r="4.6"/><circle cx="1079.1" cy="1400.2" r="4.6"/><circle cx="1083.2" cy="1348.0" r="4.6"/><circle cx="1087.3" cy="1379.9" r="4.6"/><circle cx="1091.4" cy="1374.4" r="4.6"/><circle cx="1095.4" cy="1370.4" r="4.6"/><circle cx="1100.2" cy="1412.5" r="4.6"/><circle cx="1104.7" cy="1398.9" r="4.6"/><circle cx="1108.7" cy="1369.7" r="4.6"/><circle cx="1117.4" cy="1368.3" r="4.6"/><circle cx="1113.8" cy="1337.1" r="4.6"/><circle cx="1121.9" cy="1340.2" r="4.6"/><circle cx="1126.0" cy="1360.2" r="4.6"/><circle cx="1130.1" cy="1350.7" r="4.6"/><circle cx="1134.5" cy="1312.0" r="4.6"/><circle cx="1138.9" cy="1396.2" r="4.6"/><circle cx="1143.0" cy="1336.4" r="4.6"/><circle cx="1147.3" cy="1378.5" r="4.6"/><circle cx="1151.4" cy="1430.1" r="4.6"/><circle cx="1155.9" cy="1367.0" r="4.6"/><circle cx="1159.9" cy="1381.2" r="4.6"/><circle cx="1164.4" cy="1371.7" r="4.6"/><circle cx="1168.5" cy="1362.9" r="4.6"/><circle cx="1172.8" cy="1305.2" r="4.6"/><circle cx="1176.9" cy="1307.9" r="4.6"/><circle cx="1180.2" cy="1356.1" r="4.6"/><circle cx="1194.2" cy="1310.6" r="4.6"/><circle cx="1202.3" cy="1321.2" r="4.6"/><circle cx="1206.4" cy="1359.8" r="4.6"/><circle cx="1219.6" cy="1373.8" r="4.6"/><circle cx="1189.7" cy="1379.2" r="4.6"/><circle cx="1185.6" cy="1392.1" r="4.6"/><circle cx="1198.5" cy="1393.4" r="4.6"/><circle cx="1210.7" cy="1419.3" r="4.6"/><circle cx="1214.8" cy="1338.9" r="4.6"/><circle cx="1223.6" cy="1339.8" r="4.6"/><circle cx="1227.7" cy="1298.7" r="4.6"/><circle cx="1233.8" cy="1335.1" r="4.6"/><circle cx="1236.5" cy="1338.9" r="4.6"/><circle cx="1240.6" cy="1331.3" r="4.6"/><circle cx="1244.7" cy="1351.4" r="4.6"/><circle cx="1249.4" cy="1360.2" r="4.6"/><circle cx="1253.1" cy="1380.1" r="4.6"/><circle cx="1262.1" cy="1389.4" r="4.6"/><circle cx="1257.6" cy="1405.4" r="4.6"/><circle cx="1265.7" cy="1403.6" r="4.6"/><circle cx="1270.5" cy="1344.6" r="4.6"/><circle cx="1274.6" cy="1305.5" r="4.6"/><circle cx="1278.6" cy="1331.3" r="4.6"/><circle cx="1283.4" cy="1320.8" r="4.6"/><circle cx="1291.9" cy="1325.3" r="4.6"/><circle cx="1287.5" cy="1362.9" r="4.6"/><circle cx="1295.6" cy="1352.0" r="4.6"/><circle cx="1304.4" cy="1348.0" r="4.6"/><circle cx="1300.4" cy="1362.9" r="4.6"/><circle cx="1308.5" cy="1428.5" r="4.6"/><circle cx="1312.9" cy="1337.8" r="4.6"/><circle cx="1321.4" cy="1334.4" r="4.6"/><circle cx="1316.9" cy="1296.8" r="4.6"/><circle cx="1325.9" cy="1292.3" r="4.6"/><circle cx="1330.2" cy="1271.9" r="4.6"/><circle cx="1334.3" cy="1306.3" r="4.6"/><circle cx="1347.2" cy="1315.0" r="4.6"/><circle cx="1338.4" cy="1340.2" r="4.6"/><circle cx="1343.1" cy="1342.1" r="4.6"/><circle cx="1355.4" cy="1328.0" r="4.6"/><circle cx="1351.7" cy="1373.8" r="4.6"/><circle cx="1359.8" cy="1273.3" r="4.6"/><circle cx="1364.2" cy="1347.3" r="4.6"/><circle cx="1368.3" cy="1360.2" r="4.6"/><circle cx="1368.9" cy="1282.8" r="4.6"/><circle cx="1432.7" cy="1174.7" r="4.6"/><circle cx="1428.2" cy="1195.3" r="4.6"/><circle cx="1423.6" cy="1217.7" r="4.6"/><circle cx="1419.8" cy="1242.2" r="4.6"/><circle cx="1410.9" cy="1244.2" r="4.6"/><circle cx="1436.7" cy="1234.7" r="4.6"/><circle cx="1440.8" cy="1249.6" r="4.6"/><circle cx="1446.9" cy="1222.5" r="4.6"/><circle cx="1449.6" cy="1219.8" r="4.6"/><circle cx="1415.4" cy="1269.7" r="4.6"/><circle cx="1372.9" cy="1282.2" r="4.6"/><circle cx="1381.7" cy="1282.9" r="4.6"/><circle cx="1389.9" cy="1287.6" r="4.6"/><circle cx="1377.0" cy="1293.8" r="4.6"/><circle cx="1385.1" cy="1292.4" r="4.6"/><circle cx="1452.3" cy="1289.7" r="4.6"/><circle cx="1458.5" cy="1289.0" r="4.6"/><circle cx="1393.9" cy="1333.8" r="4.6"/><circle cx="1406.8" cy="1328.4" r="4.6"/><circle cx="1396.7" cy="1355.5" r="4.6"/><circle cx="1403.5" cy="1354.2" r="4.6"/><circle cx="1461.8" cy="1327.0" r="4.6"/><circle cx="1465.9" cy="1221.1" r="4.6"/><circle cx="1470.7" cy="1217.0" r="4.6"/><circle cx="1474.7" cy="1206.8" r="4.6"/><circle cx="1483.6" cy="1205.5" r="4.6"/><circle cx="1492.4" cy="1204.8" r="4.6"/><circle cx="1478.8" cy="1228.6" r="4.6"/><circle cx="1487.6" cy="1233.3" r="4.6"/><circle cx="1495.8" cy="1243.9" r="4.6"/><circle cx="1500.5" cy="1254.4" r="4.6"/><circle cx="1504.6" cy="1261.2" r="4.6"/><circle cx="1514.8" cy="1264.6" r="4.6"/><circle cx="1518.2" cy="1263.2" r="4.6"/><circle cx="1509.1" cy="1227.2" r="4.6"/><circle cx="1521.6" cy="1208.2" r="4.6"/><circle cx="1525.9" cy="1241.2" r="4.6"/><circle cx="1530.4" cy="1162.7" r="4.6"/><circle cx="1538.6" cy="1180.4" r="4.6"/><circle cx="1543.3" cy="1189.6" r="4.6"/><circle cx="1547.4" cy="1172.9" r="4.6"/><circle cx="1551.5" cy="1234.7" r="4.6"/><circle cx="1556.2" cy="1244.9" r="4.6"/><circle cx="1564.4" cy="1239.4" r="4.6"/><circle cx="1559.6" cy="1279.2" r="4.6"/><circle cx="1568.4" cy="1195.0" r="4.6"/><circle cx="1534.2" cy="1150.8" r="4.6"/><circle cx="1572.5" cy="1157.5" r="4.6"/></g>
<g fill="none" stroke="#ff2020" stroke-width="2.35"><circle cx="474.2" cy="1304.4" r="3.55"/><circle cx="516.8" cy="1303.5" r="3.55"/><circle cx="550.7" cy="1293.1" r="3.55"/><circle cx="508.1" cy="1319.5" r="3.55"/><circle cx="525.4" cy="1319.3" r="3.55"/><circle cx="436.2" cy="1343.7" r="3.55"/><circle cx="440.2" cy="1351.6" r="3.55"/><circle cx="427.3" cy="1358.8" r="3.55"/><circle cx="461.2" cy="1347.9" r="3.55"/><circle cx="470.2" cy="1363.7" r="3.55"/><circle cx="456.9" cy="1371.1" r="3.55"/><circle cx="482.8" cy="1358.8" r="3.55"/><circle cx="487.2" cy="1363.1" r="3.55"/><circle cx="499.9" cy="1362.5" r="3.55"/><circle cx="504.4" cy="1374.2" r="3.55"/><circle cx="512.5" cy="1348.6" r="3.55"/><circle cx="529.5" cy="1348.3" r="3.55"/><circle cx="521.1" cy="1364.0" r="3.55"/><circle cx="534.1" cy="1366.8" r="3.55"/><circle cx="546.4" cy="1378.3" r="3.55"/><circle cx="555.4" cy="1370.5" r="3.55"/><circle cx="568.0" cy="1334.7" r="3.55"/><circle cx="581.0" cy="1330.4" r="3.55"/><circle cx="558.8" cy="1347.0" r="3.55"/><circle cx="564.9" cy="1348.3" r="3.55"/><circle cx="571.7" cy="1379.1" r="3.55"/><circle cx="577.3" cy="1382.2" r="3.55"/><circle cx="585.3" cy="1381.6" r="3.55"/><circle cx="444.3" cy="1382.2" r="3.55"/><circle cx="452.6" cy="1389.6" r="3.55"/><circle cx="465.8" cy="1384.1" r="3.55"/><circle cx="491.2" cy="1380.4" r="3.55"/><circle cx="495.8" cy="1393.1" r="3.55"/><circle cx="432.0" cy="1408.1" r="3.55"/><circle cx="448.5" cy="1405.7" r="3.55"/><circle cx="478.5" cy="1410.6" r="3.55"/><circle cx="542.1" cy="1402.0" r="3.55"/><circle cx="537.8" cy="1423.0" r="3.55"/><circle cx="589.0" cy="1402.0" r="3.55"/><circle cx="597.7" cy="1419.3" r="3.55"/><circle cx="593.3" cy="1437.2" r="3.55"/><circle cx="606.3" cy="1340.2" r="3.55"/><circle cx="602.0" cy="1350.7" r="3.55"/><circle cx="619.1" cy="1295.8" r="3.55"/><circle cx="610.5" cy="1314.3" r="3.55"/><circle cx="615.4" cy="1329.8" r="3.55"/><circle cx="666.0" cy="1314.3" r="3.55"/><circle cx="627.8" cy="1342.7" r="3.55"/><circle cx="636.4" cy="1336.5" r="3.55"/><circle cx="653.1" cy="1334.7" r="3.55"/><circle cx="657.0" cy="1346.4" r="3.55"/><circle cx="662.3" cy="1350.1" r="3.55"/><circle cx="671.0" cy="1348.3" r="3.55"/><circle cx="674.7" cy="1354.4" r="3.55"/><circle cx="679.0" cy="1350.1" r="3.55"/><circle cx="632.1" cy="1368.6" r="3.55"/><circle cx="640.1" cy="1363.1" r="3.55"/><circle cx="649.1" cy="1360.0" r="3.55"/><circle cx="644.7" cy="1379.1" r="3.55"/><circle cx="683.0" cy="1380.4" r="3.55"/><circle cx="623.5" cy="1413.7" r="3.55"/><circle cx="687.4" cy="1403.2" r="3.55"/><circle cx="729.9" cy="1413.7" r="3.55"/><circle cx="887.5" cy="1415.8" r="3.55"/><circle cx="891.9" cy="1437.8" r="3.55"/><circle cx="895.6" cy="1352.6" r="3.55"/><circle cx="899.9" cy="1332.2" r="3.55"/><circle cx="905.4" cy="1331.4" r="3.55"/><circle cx="910.4" cy="1329.1" r="3.55"/><circle cx="914.1" cy="1329.8" r="3.55"/><circle cx="917.4" cy="1269.9" r="3.55"/><circle cx="921.5" cy="1318.6" r="3.55"/><circle cx="934.4" cy="1296.4" r="3.55"/><circle cx="938.8" cy="1323.6" r="3.55"/><circle cx="943.1" cy="1345.8" r="3.55"/><circle cx="925.8" cy="1365.6" r="3.55"/><circle cx="930.1" cy="1361.9" r="3.55"/><circle cx="951.1" cy="1392.7" r="3.55"/><circle cx="946.8" cy="1404.4" r="3.55"/><circle cx="956.0" cy="1364.9" r="3.55"/><circle cx="959.8" cy="1341.5" r="3.55"/><circle cx="964.1" cy="1331.0" r="3.55"/><circle cx="968.4" cy="1295.2" r="3.55"/><circle cx="972.7" cy="1338.4" r="3.55"/><circle cx="977.0" cy="1268.6" r="3.55"/><circle cx="980.7" cy="1326.7" r="3.55"/><circle cx="985.1" cy="1332.2" r="3.55"/><circle cx="989.5" cy="1316.7" r="3.55"/><circle cx="998.3" cy="1320.1" r="3.55"/><circle cx="1002.4" cy="1309.3" r="3.55"/><circle cx="1015.0" cy="1303.8" r="3.55"/><circle cx="1019.4" cy="1281.4" r="3.55"/><circle cx="1023.7" cy="1309.9" r="3.55"/><circle cx="1027.8" cy="1292.7" r="3.55"/><circle cx="1011.0" cy="1328.9" r="3.55"/><circle cx="1006.5" cy="1339.1" r="3.55"/><circle cx="994.3" cy="1373.1" r="3.55"/><circle cx="1034.0" cy="1355.4" r="3.55"/><circle cx="1036.4" cy="1354.1" r="3.55"/><circle cx="1040.8" cy="1307.6" r="3.55"/><circle cx="1044.9" cy="1378.5" r="3.55"/><circle cx="1048.6" cy="1356.8" r="3.55"/><circle cx="1053.3" cy="1354.1" r="3.55"/><circle cx="1057.4" cy="1359.5" r="3.55"/><circle cx="1061.5" cy="1318.5" r="3.55"/><circle cx="1065.8" cy="1298.4" r="3.55"/><circle cx="1070.7" cy="1242.4" r="3.55"/><circle cx="1074.8" cy="1261.0" r="3.55"/><circle cx="1083.5" cy="1299.8" r="3.55"/><circle cx="1079.1" cy="1349.7" r="3.55"/><circle cx="1087.3" cy="1340.5" r="3.55"/><circle cx="1091.4" cy="1336.7" r="3.55"/><circle cx="1096.1" cy="1333.7" r="3.55"/><circle cx="1100.2" cy="1375.1" r="3.55"/><circle cx="1104.3" cy="1363.6" r="3.55"/><circle cx="1108.7" cy="1329.6" r="3.55"/><circle cx="1113.1" cy="1295.0" r="3.55"/><circle cx="1117.2" cy="1320.8" r="3.55"/><circle cx="1121.9" cy="1289.6" r="3.55"/><circle cx="1125.6" cy="1310.6" r="3.55"/><circle cx="1130.1" cy="1304.9" r="3.55"/><circle cx="1134.5" cy="1267.8" r="3.55"/><circle cx="1138.9" cy="1355.4" r="3.55"/><circle cx="1143.0" cy="1298.7" r="3.55"/><circle cx="1147.3" cy="1341.2" r="3.55"/><circle cx="1151.4" cy="1387.3" r="3.55"/><circle cx="1155.9" cy="1331.0" r="3.55"/><circle cx="1159.9" cy="1348.0" r="3.55"/><circle cx="1164.4" cy="1335.1" r="3.55"/><circle cx="1168.5" cy="1314.7" r="3.55"/><circle cx="1172.8" cy="1254.3" r="3.55"/><circle cx="1176.9" cy="1259.0" r="3.55"/><circle cx="1181.5" cy="1310.6" r="3.55"/><circle cx="1194.2" cy="1275.6" r="3.55"/><circle cx="1202.6" cy="1272.3" r="3.55"/><circle cx="1214.8" cy="1288.6" r="3.55"/><circle cx="1223.6" cy="1280.5" r="3.55"/><circle cx="1236.5" cy="1279.7" r="3.55"/><circle cx="1240.9" cy="1289.2" r="3.55"/><circle cx="1232.2" cy="1295.4" r="3.55"/><circle cx="1228.1" cy="1243.0" r="3.55"/><circle cx="1206.7" cy="1312.0" r="3.55"/><circle cx="1219.6" cy="1318.5" r="3.55"/><circle cx="1184.9" cy="1354.7" r="3.55"/><circle cx="1189.7" cy="1348.6" r="3.55"/><circle cx="1198.5" cy="1350.0" r="3.55"/><circle cx="1210.7" cy="1371.5" r="3.55"/><circle cx="1249.4" cy="1310.9" r="3.55"/><circle cx="1244.7" cy="1320.8" r="3.55"/><circle cx="1253.5" cy="1324.9" r="3.55"/><circle cx="1262.1" cy="1332.3" r="3.55"/><circle cx="1257.6" cy="1344.8" r="3.55"/><circle cx="1266.1" cy="1348.6" r="3.55"/><circle cx="1270.5" cy="1280.7" r="3.55"/><circle cx="1278.6" cy="1263.8" r="3.55"/><circle cx="1283.0" cy="1255.2" r="3.55"/><circle cx="1291.5" cy="1266.1" r="3.55"/><circle cx="1287.5" cy="1299.8" r="3.55"/><circle cx="1296.3" cy="1294.3" r="3.55"/><circle cx="1300.6" cy="1301.1" r="3.55"/><circle cx="1304.4" cy="1278.3" r="3.55"/><circle cx="1312.9" cy="1267.8" r="3.55"/><circle cx="1321.4" cy="1263.4" r="3.55"/><circle cx="1309.2" cy="1358.4" r="3.55"/><circle cx="1339.1" cy="1257.7" r="3.55"/><circle cx="1343.1" cy="1259.0" r="3.55"/><circle cx="1347.2" cy="1259.0" r="3.55"/><circle cx="1351.7" cy="1288.2" r="3.55"/><circle cx="1363.9" cy="1257.7" r="3.55"/><circle cx="1368.3" cy="1265.1" r="3.55"/><circle cx="1274.7" cy="1236.4" r="3.55"/><circle cx="1316.9" cy="1220.7" r="3.55"/><circle cx="1325.9" cy="1224.1" r="3.55"/><circle cx="1330.4" cy="1204.4" r="3.55"/><circle cx="1334.5" cy="1237.0" r="3.55"/><circle cx="1355.7" cy="1234.2" r="3.55"/><circle cx="1360.0" cy="1188.0" r="3.55"/><circle cx="1372.9" cy="1190.6" r="3.55"/><circle cx="1381.0" cy="1185.8" r="3.55"/><circle cx="1389.9" cy="1186.5" r="3.55"/><circle cx="1377.0" cy="1197.3" r="3.55"/><circle cx="1385.5" cy="1196.9" r="3.55"/><circle cx="1393.9" cy="1231.3" r="3.55"/><circle cx="1406.8" cy="1232.0" r="3.55"/><circle cx="1398.0" cy="1260.5" r="3.55"/><circle cx="1403.2" cy="1264.3" r="3.55"/><circle cx="1457.8" cy="1165.4" r="3.55"/><circle cx="1573.0" cy="917.5" r="3.55"/><circle cx="1530.0" cy="940.8" r="3.55"/><circle cx="1535.0" cy="939.7" r="3.55"/><circle cx="1539.2" cy="964.2" r="3.55"/><circle cx="1543.3" cy="957.5" r="3.55"/><circle cx="1547.5" cy="956.7" r="3.55"/><circle cx="1568.3" cy="980.8" r="3.55"/><circle cx="1521.7" cy="1000.8" r="3.55"/><circle cx="1475.0" cy="1004.7" r="3.55"/><circle cx="1483.3" cy="1009.2" r="3.55"/><circle cx="1492.0" cy="1015.0" r="3.55"/><circle cx="1525.8" cy="1018.3" r="3.55"/><circle cx="1551.7" cy="1015.0" r="3.55"/><circle cx="1432.5" cy="1018.0" r="3.55"/><circle cx="1508.7" cy="1026.7" r="3.55"/><circle cx="1564.7" cy="1030.0" r="3.55"/><circle cx="1556.3" cy="1038.7" r="3.55"/><circle cx="1479.2" cy="1037.5" r="3.55"/><circle cx="1428.3" cy="1041.3" r="3.55"/><circle cx="1496.3" cy="1044.7" r="3.55"/><circle cx="1487.5" cy="1050.0" r="3.55"/><circle cx="1470.3" cy="1049.7" r="3.55"/><circle cx="1445.0" cy="1051.7" r="3.55"/><circle cx="1440.8" cy="1056.7" r="3.55"/><circle cx="1513.0" cy="1059.7" r="3.55"/><circle cx="1517.5" cy="1066.7" r="3.55"/><circle cx="1560.0" cy="1060.8" r="3.55"/><circle cx="1466.3" cy="1065.0" r="3.55"/><circle cx="1423.7" cy="1068.7" r="3.55"/><circle cx="1500.3" cy="1070.0" r="3.55"/><circle cx="1505.0" cy="1075.0" r="3.55"/><circle cx="1449.2" cy="1079.7" r="3.55"/><circle cx="1436.3" cy="1086.7" r="3.55"/><circle cx="1419.7" cy="1107.5" r="3.55"/><circle cx="1453.7" cy="1108.7" r="3.55"/><circle cx="1410.8" cy="1121.7" r="3.55"/><circle cx="1462.0" cy="1141.3" r="3.55"/><circle cx="1415.0" cy="1146.3" r="3.55"/></g>
<g fill="none" stroke="url(#rg)" stroke-width="2.5"><circle cx="695.7" cy="1404.4" r="3.55"/><circle cx="691.4" cy="1366.2" r="3.55"/><circle cx="704.3" cy="1365.9" r="3.55"/><circle cx="708.4" cy="1331.6" r="3.55"/><circle cx="717.3" cy="1329.8" r="3.55"/><circle cx="712.6" cy="1340.9" r="3.55"/><circle cx="725.7" cy="1340.9" r="3.55"/><circle cx="721.6" cy="1375.4" r="3.55"/><circle cx="734.0" cy="1392.1" r="3.55"/><circle cx="738.3" cy="1385.9" r="3.55"/><circle cx="742.6" cy="1381.6" r="3.55"/><circle cx="746.9" cy="1362.5" r="3.55"/><circle cx="751.2" cy="1370.5" r="3.55"/><circle cx="700.0" cy="1431.6" r="3.55"/><circle cx="759.9" cy="1315.6" r="3.55"/><circle cx="781.2" cy="1326.0" r="3.55"/><circle cx="755.3" cy="1344.0" r="3.55"/><circle cx="768.1" cy="1342.1" r="3.55"/><circle cx="776.8" cy="1342.7" r="3.55"/><circle cx="785.2" cy="1349.9" r="3.55"/><circle cx="772.6" cy="1357.5" r="3.55"/><circle cx="764.0" cy="1378.3" r="3.55"/><circle cx="790.1" cy="1366.2" r="3.55"/><circle cx="794.4" cy="1368.0" r="3.55"/><circle cx="798.0" cy="1404.4" r="3.55"/><circle cx="790.6" cy="1349.5" r="3.55"/><circle cx="814.7" cy="1326.0" r="3.55"/><circle cx="819.6" cy="1323.0" r="3.55"/><circle cx="832.0" cy="1326.7" r="3.55"/><circle cx="802.3" cy="1354.4" r="3.55"/><circle cx="806.7" cy="1348.3" r="3.55"/><circle cx="811.0" cy="1342.7" r="3.55"/><circle cx="823.3" cy="1352.6" r="3.55"/><circle cx="828.3" cy="1355.1" r="3.55"/><circle cx="840.6" cy="1361.9" r="3.55"/><circle cx="853.6" cy="1372.3" r="3.55"/><circle cx="836.3" cy="1379.1" r="3.55"/><circle cx="844.3" cy="1382.2" r="3.55"/><circle cx="849.3" cy="1390.9" r="3.55"/><circle cx="857.3" cy="1328.5" r="3.55"/><circle cx="861.6" cy="1334.7" r="3.55"/><circle cx="866.3" cy="1292.3" r="3.55"/><circle cx="870.2" cy="1345.2" r="3.55"/><circle cx="878.9" cy="1350.1" r="3.55"/><circle cx="883.2" cy="1363.7" r="3.55"/><circle cx="875.2" cy="1373.0" r="3.55"/></g>
</g>
</svg></body></html>
